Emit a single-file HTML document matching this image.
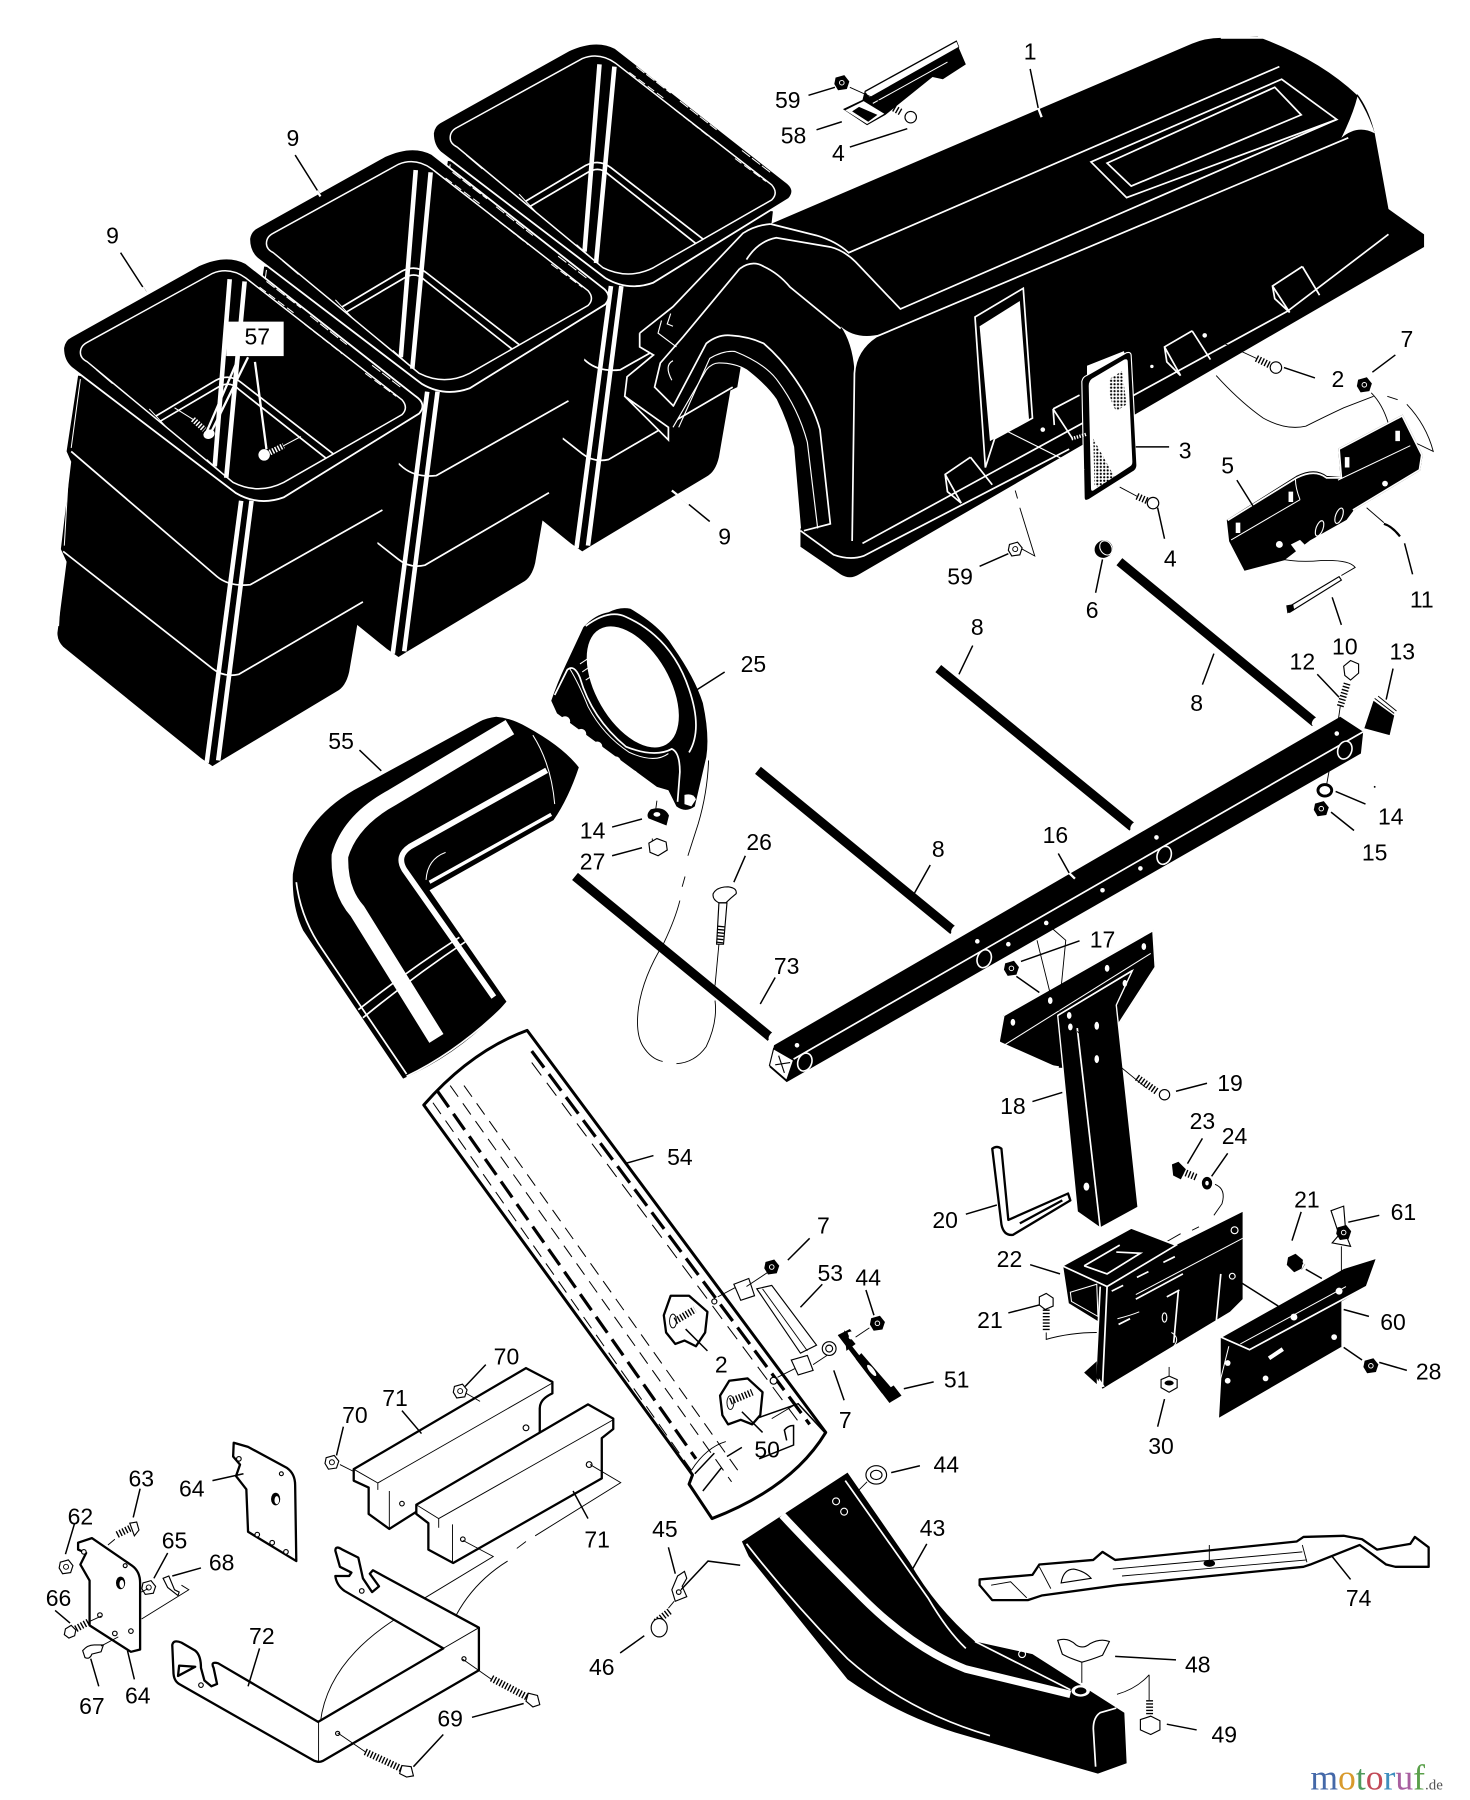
<!DOCTYPE html>
<html><head><meta charset="utf-8"><style>
html,body{margin:0;padding:0;background:#fff}
svg{display:block}
text{font-family:"Liberation Sans",sans-serif;font-size:20px;fill:#000;text-anchor:middle}
.l{stroke:#000;stroke-width:1.3;fill:none}
.t{stroke:#000;stroke-width:.8;fill:none}
.w{stroke:#fff;stroke-width:1.5;fill:none}
.wt{stroke:#fff;stroke-width:.9;fill:none}
.o{stroke:#000;stroke-width:2;fill:#fff;stroke-linejoin:round}
.ot{stroke:#000;stroke-width:1;fill:#fff}
.th{stroke:#000;stroke-width:6;stroke-dasharray:1.2 1.6;fill:none}
.ko{fill:#000;stroke:#000;stroke-width:1}
.wh{fill:#fff}
</style></head><body>
<svg xmlns="http://www.w3.org/2000/svg" width="1470" height="1800" viewBox="0 0 1280 1567" preserveAspectRatio="none">
<rect width="1280" height="1567" fill="#fff"/>
<defs>
<pattern id="d" width="3" height="3" patternUnits="userSpaceOnUse"><circle cx="1.5" cy="1.5" r=".95" fill="#000"/></pattern>
<g id="b">
<path d="M68,327 L58,393 L62,402 L53,478 L58,489 L50,551 Q50,558 55,563 L175,660 L185,667 L193,662 L293,602 Q301,598 304,585 L314,527 L320,524 L333,447 L343,440 L351,371Z" fill="#000"/>
<path class="w" d="M62,393 L189,502 Q200,511 218,509 L333,444"/>
<path class="w" d="M55,480 L185,582 Q195,590 208,587 L316,524"/>
<path class="wt" d="M70,330 L62,390M60,405 L56,475M54,492 L51,545"/>
<path d="M210,436 L180,664" stroke="#fff" stroke-width="4"/>
<path d="M219,436 L190,662" stroke="#fff" stroke-width="4"/>
<path d="M55,303 Q56,296 62,293 L173,231 Q197,220 214,229 L362,345 Q372,352 365,360 L247,433 Q225,441 205,429 L62,320 Q55,314 55,303Z" fill="#000" stroke="#fff" stroke-width="1.6"/>
<path d="M70,307 Q70,301 76,298 L185,238 Q200,232 214,242 L350,348 Q356,355 350,361 L247,420 Q225,431 203,420 L76,315 Q70,312 70,307Z" fill="#000" stroke="#fff" stroke-width="1.3"/>
<path d="M200,243 L187,406" stroke="#fff" stroke-width="4"/>
<path d="M213,245 L197,416" stroke="#fff" stroke-width="4"/>
<path class="w" d="M136,362 L188,331 Q200,325 210,333 L290,395"/>
<path class="w" d="M139,367 L190,337 Q200,331 208,339 L284,399"/>
<path class="wt" d="M130,356 L145,372M84,322 L98,334M180,400 L197,415"/>
<path class="wt" d="M232,245 L262,268M270,275 L302,300M324,318 L350,338" stroke-dasharray="9 2"/>
<path class="wt" d="M226,250 L258,274M265,282 L298,308M318,325 L345,345" stroke-dasharray="7 3"/>
</g>
<g id="nut"><path d="M-5,-4 L2,-6 L6,-1 L4,5 L-3,6 L-6,1Z" fill="#000" stroke="#000"/><circle r="2" fill="none" stroke="#fff" stroke-width=".8"/></g>
<g id="nutw"><path d="M-5,-4 L2,-6 L6,-1 L4,5 L-3,6 L-6,1Z" fill="#fff" stroke="#000"/><circle r="2.2" fill="none" stroke="#000" stroke-width=".8"/></g>
</defs>

<use href="#b" x="322" y="-187"/>
<use href="#b" x="162" y="-95"/>
<use href="#b"/>

<!-- screws 57 -->
<rect x="197" y="280" width="50" height="30" fill="#fff"/>
<path d="M216,311 L183,378M208,311 L179,378M222,315 L232,391" stroke="#fff" stroke-width="2"/>
<ellipse cx="182" cy="378" rx="5" ry="4" fill="#fff" transform="rotate(-20 182 378)"/><path d="M168,365 L178,374" stroke="#fff" stroke-width="5" stroke-dasharray="1.3 1.3"/>
<ellipse cx="230" cy="396" rx="5" ry="5" fill="#fff"/><path d="M235,394 L247,388" stroke="#fff" stroke-width="5" stroke-dasharray="1.3 1.3"/>
<path class="wt" d="M247,388 L262,380M152,355 L168,365"/>

<!-- hood -->
<path fill="#000" d="M671,195 L1038,38 Q1050,33 1063,33 L1095,32 Q1140,45 1182,82 Q1192,95 1197,116 L1209,182 L1240,204 L1240,215 L748,500 Q740,505 732,500 L697,476 L697,460 L691,389 Q685,365 676,348 Q662,330 650,322 Q636,314 624,316 Q616,316 615,322 L586,372 L582,374 L582,383 L544,345 L546,328 L569,309 L557,302 L557,290 L586,267 L647,203 Q658,196 671,195Z"/>
<g class="w">
<path d="M671,195 L711,205 Q728,210 739,220 L1114,58"/>
<path d="M650,226 Q660,210 676,207 L723,215 Q735,218 745,228 L784,269 L1164,104"/>
<path d="M644,234 L595,293 L575,316 L570,337 L586,353"/>
<path d="M644,234 Q655,226 665,232 Q678,238 688,250 L732,286"/>
<path d="M557,290 L586,267 L647,203 Q658,196 671,195"/>
<path d="M557,290 V302 L569,309 L546,328 L544,345 L582,372 V383 L544,345"/>
<path d="M586,354 L615,299 Q625,291 636,292 Q652,293 665,299 Q680,312 691,328 Q708,352 714,374 L723,456 L700,462"/>
<path stroke-width="1" d="M591,372 L618,312 Q630,305 640,306 Q665,316 676,330 Q695,355 703,385 L712,460"/>
<path stroke-width="1" d="M586,372 L615,322 Q620,316 626,316 Q640,316 650,322 Q668,336 676,348 Q686,368 691,389 L697,460"/>
<path stroke-width="1" d="M586,314 Q578,318 585,331M584,273 L581,282 L586,284M576,279 L573,290 L589,302"/>
<path d="M1174,120 L763,293 Q745,305 744,325 L742,471"/>
<path d="M751,473 L1121,271 L1209,204"/>
<path d="M697,462 L726,483 Q740,488 752,484 L931,391"/>
<path d="M950,141 L1116,69 L1164,104 L981,172Z"/>
<path d="M964,142 L1110,76 L1133,100 L985,162Z"/>
<path d="M845,398 L823,413 L825,428 L837,438 M845,398 L864,422 M823,413 L837,438"/>
<path d="M917,356 L940,344 M917,356 L934,382 M917,356 L918,370"/>
<path d="M1038,288 L1014,302 L1016,315 L1028,327 M1038,288 L1054,313 M1014,302 L1028,327"/>
<path d="M1134,232 L1108,249 L1110,260 L1123,272 M1134,232 L1149,257 M1108,249 L1123,272"/>
<path d="M1063,33 L1100,33 Q1150,52 1182,82"/>
</g>
<path d="M732,284 Q745,296 767,291 Q748,300 744,322 Q742,298 732,284Z" fill="#fff"/>
<path d="M1168,120 Q1178,100 1182,84 Q1192,100 1197,116 Q1182,108 1168,120Z" fill="#fff"/>
<path d="M849,276 L891,251 L899,364 L866,382 L858,407Z" fill="#000" stroke="#fff" stroke-width="1.5"/>
<path d="M853,284 L888,262 L896,365 L862,384Z" fill="#fff"/>
<circle cx="1049" cy="292" r="2" fill="#fff"/><circle cx="1003" cy="319" r="1.5" fill="#fff"/><circle cx="908" cy="374" r="2" fill="#fff"/>

<!-- 3 panel -->
<path d="M946,318 L979,305 L983,320L946,336Z" fill="#fff" stroke="#000"/>
<path d="M942,332 Q943,328 946,327 L981,307 Q985,306 985,310 L990,405 Q990,409 986,411 L948,435 Q944,437 944,433Z" fill="#000" stroke="#fff" stroke-width="1"/>
<path d="M948,336 Q948,331 952,329 L979,313 Q982,312 982,315 L986,402 Q986,405 984,406 L952,427 Q950,428 950,425Z" fill="#fff"/>
<path d="M966,330 L977,323 L981,352 L972,358 Q964,345 966,330Z" fill="url(#d)"/>
<path d="M952,382 L972,418 L960,425 L953,423Z" fill="url(#d)"/>
<path d="M868,371 L944,409" stroke="#fff" stroke-width="1"/>
<path d="M933,382 L946,378" stroke="#fff" stroke-width="3" stroke-dasharray="1.2 1.2"/>
<!-- screw 2 right -->
<path class="t" d="M1051,292 L1094,312"/><path class="th" d="M1094,312 L1106,318" stroke-width="5"/>
<circle cx="1111" cy="320" r="5" class="ot"/>
<!-- 4 small screw -->
<path class="t" d="M975,424 L990,432"/><path class="th" d="M990,432 L999,436" stroke-width="5"/>
<circle cx="1004" cy="438" r="5" class="ot"/>
<!-- 58 -->
<path d="M734,95 L751,87 L753,79 L833,35 L835,42 L841,56 L821,69 L812,67 L771,100 L755,109Z" fill="#000"/>
<path d="M753,80 L833,36 L835,41 L757,85Z" fill="#fff" stroke="#000" stroke-width=".6"/>
<path d="M736,96 L752,88 L770,99 L755,108Z" fill="#fff"/>
<path d="M748,93 L764,100 L756,106 L742,97Z" fill="#000"/>
<path d="M820,52 L835,46 L838,55 L822,64Z" fill="#000"/><path class="wt" d="M760,90 L825,54"/>
<use href="#nut" x="733" y="72"/>
<path class="t" d="M740,76 L771,90"/><path class="th" d="M771,90 L785,98" stroke-width="5"/>
<circle cx="793" cy="102" r="5" class="ot"/>
<!-- 59 low -->
<use href="#nutw" x="884" y="478"/>
<path class="t" d="M890,478 L901,484 L888,442M886,434 L884,427"/>
<!-- 6 -->
<ellipse cx="961" cy="478" rx="8" ry="7.5" fill="#000" transform="rotate(-30 961 478)"/><ellipse cx="963" cy="477" rx="5" ry="6.5" fill="none" stroke="#fff" stroke-width=".9" transform="rotate(-30 963 477)"/>
<!-- nut 7 and cable -->
<use href="#nut" x="1188" y="335"/>
<path class="t" d="M1059,327 Q1080,350 1100,364 Q1120,375 1137,371 Q1155,362 1170,355 L1196,345 M1208,345 L1217,348 M1225,352 Q1242,370 1248,393 L1221,380"/>
<path class="t" d="M1194,342 Q1204,352 1209,369"/>
<!-- 5 -->
<path fill="#000" stroke="#000" stroke-width="1.5" d="M1069,453 L1129,415 Q1145,407 1155,415 L1168,416 L1166,391 L1221,362 L1238,396 L1236,409 L1178,444 L1172,452 L1140,470 L1118,487 L1084,496 L1071,471Z"/>
<path class="w" d="M1069,453 L1129,416 Q1145,408 1155,416 L1168,416 L1166,391 L1221,362 L1238,396 L1236,409 L1178,444"/>
<path class="wt" d="M1072,470 L1132,435M1165,418 L1228,388M1132,435 Q1128,425 1128,417"/>
<path class="wh" d="M1076,455 h4 v9 h-4zM1122,428 h4 v9 h-4zM1171,398 h4 v9 h-4zM1215,375 h4 v9 h-4z"/>
<ellipse cx="1114" cy="474" rx="3" ry="3" fill="#fff"/><ellipse cx="1149" cy="460" rx="3" ry="7" fill="none" stroke="#fff" transform="rotate(20 1149 460)"/><ellipse cx="1166" cy="449" rx="3" ry="7" fill="none" stroke="#fff" transform="rotate(20 1166 449)"/><circle cx="1206" cy="421" r="2.5" fill="#fff"/>
<path class="wh" d="M1124,474 l8,-4 l4,4 l-6,8z"/>
<path class="t" d="M1112,486 Q1130,490 1150,488 Q1175,487 1180,494 L1168,501"/>
<path class="ot" d="M1121,529 L1166,502 L1168,505 L1123,533Z"/><path fill="#000" d="M1120,527 L1126,526 L1127,531 L1121,534Z"/>
<path class="t" d="M1190,442 L1205,455"/>
<path d="M1205,456 Q1212,458 1219,467" stroke="#000" stroke-width="2" fill="none"/>

<!-- rods -->
<g stroke="#000" stroke-width="8" stroke-linecap="butt">
<path d="M974.7,489 L1145,629"/><path d="M817,582 L986,720"/><path d="M660,670.6 L830,810"/><path d="M500.7,763 L671,903"/>
</g>
<g fill="#fff"><ellipse cx="1145" cy="628" rx="2" ry="4" transform="rotate(35 1145 628)"/><ellipse cx="987" cy="719" rx="2" ry="4" transform="rotate(35 987 719)"/><ellipse cx="831" cy="809" rx="2" ry="4" transform="rotate(35 831 809)"/><ellipse cx="672" cy="902" rx="2" ry="4" transform="rotate(35 672 902)"/></g>

<!-- frame -->
<path fill="#000" d="M1167,624 L1187,637 L1185,656 L685,942 L670,929 L674,910Z"/>
<path d="M691,922 L1187,637" class="w"/>
<path d="M673.6,913 L691,923 L685,940.5 L670,927.5Z M678,919 L683,934 M675,927 L688,925" fill="#fff" stroke="#000" stroke-width="1"/>
<g fill="#000" stroke="#fff" stroke-width="1.4"><ellipse cx="1171" cy="653" rx="6" ry="8" transform="rotate(20 1171 653)"/><ellipse cx="1013.7" cy="744.6" rx="6" ry="8" transform="rotate(20 1013.7 744.6)"/><ellipse cx="857" cy="834.6" rx="6" ry="8" transform="rotate(20 857 834.6)"/><ellipse cx="700.8" cy="924.6" rx="6" ry="8" transform="rotate(20 700.8 924.6)"/></g>
<g fill="#fff"><circle cx="1164" cy="638.6" r="2"/><circle cx="1007" cy="729" r="2"/><circle cx="993" cy="756" r="2"/><circle cx="960" cy="775" r="2"/><circle cx="911" cy="803.5" r="2"/><circle cx="878" cy="822" r="2"/><circle cx="851" cy="819.5" r="2"/><circle cx="694" cy="910" r="2"/></g>
<path d="M921.5,743 L931,760" class="l"/><path d="M931,760 L936,765" stroke="#fff" stroke-width="2"/>

<!-- bolt 12 -->
<path class="t" d="M1164,636 L1167,615"/><path class="th" d="M1173,595 L1167,615"/>
<path d="M1171,588 L1170,580 L1176,575 L1183,578 L1183,586 L1176,592Z" class="ot"/>
<!-- 13 -->
<path d="M1196,610 L1214,623 L1210,640 L1188,634Z" fill="#000"/>
<path class="wt" d="M1200,609 L1217,622 L1213,641M1203,606 L1219,620 L1216,640"/>
<path class="t" d="M1197,608 L1214,621M1200,606 L1216,619"/>
<path class="t" d="M1157.5,670 L1155,684"/>
<ellipse cx="1153.6" cy="688" rx="6" ry="5" fill="#fff" stroke="#000" stroke-width="2.5"/>
<use href="#nut" x="1150.5" y="704"/>
<circle cx="1197" cy="685" r=".8"/>

<!-- bracket 18 -->
<path fill="#000" stroke="#000" d="M874,884 L1004,810 L1006,842 L973,893 L975,930 L922,929 L870,906Z"/>
<path class="w" d="M874,884 L1004,810 L1006,842 L973,893M874,884 L870,906 L872,921 L922,929"/>
<path class="wt" d="M871,912 L1002,830"/>
<path fill="#000" stroke="#fff" stroke-width="1.2" d="M921,884 L986,845 L972,875 L991,1051 L958,1069 L938,1055Z"/>
<path class="w" d="M938,895 L958,1069"/>
<path class="w" d="M921,884 L986,845"/>
<g fill="#fff"><ellipse cx="882" cy="890" rx="2" ry="3"/><ellipse cx="996" cy="824" rx="2" ry="3"/><ellipse cx="964" cy="843" rx="2" ry="3"/><ellipse cx="914.5" cy="871" rx="2" ry="3"/><ellipse cx="931" cy="884" rx="2" ry="3"/><ellipse cx="932" cy="894" rx="2" ry="3"/><ellipse cx="955" cy="893" rx="2" ry="3.5"/><ellipse cx="955" cy="922" rx="2" ry="3.5"/><ellipse cx="946" cy="1033" rx="2.5" ry="3.5"/><ellipse cx="979.5" cy="856" rx="2" ry="3"/></g>
<path class="t" d="M916.5,808.5 L928,818.6 L922,880M903,818.6 L914.5,865"/>
<use href="#nut" x="880.7" y="843"/><path class="l" d="M885,850 L905,864"/>
<path class="t" d="M938,898 L998,947"/><path class="th" d="M990,938 L1007,950"/>
<circle cx="1014" cy="953" r="4.5" class="ot"/>

<!-- 20 pin -->
<path class="o" stroke-width="1.2" d="M864,1000 Q868,997 872,1000 L878,1062 L930,1039 L932,1045 L882,1075 Q874,1076 872,1066Z"/>
<path d="M888,1065 L925,1045" stroke="#000" stroke-width="2"/>

<!-- 23 24 -->
<path d="M1021,1014 L1026,1012 L1032,1018 L1028,1026 L1022,1023Z" class="ko"/><path class="th" d="M1030,1020 L1042,1025"/>
<ellipse cx="1051" cy="1030" rx="4" ry="5" fill="#000" stroke="#000"/><ellipse cx="1051" cy="1030" rx="1.5" ry="2" fill="#fff"/>
<path class="t" d="M1058,1031 Q1068,1035 1064,1048 L1057,1058M1044,1068 L1038,1071M1028,1074 L1014,1082"/>

<!-- 22 -->
<path fill="#000" d="M925,1102 L985,1069 L1024,1084 L1082,1055 L1082,1131 L1071,1142 L968,1204 L960,1209 L954,1198 L956,1151 L930,1135Z"/>
<path class="w" d="M925,1102 L985,1069 L1024,1084 L964,1120 Z"/>
<path class="w" d="M944,1102 L975,1084 M972,1090 L993,1091 L964,1109 L944,1102"/>
<path class="w" d="M925,1102 L930,1135 L956,1151M958,1120 L954,1198 M964,1120 L960,1206"/>
<path class="wt" d="M932,1125 L955,1118 L956,1146 L933,1133Z"/>
<path class="wt" d="M989,1127 L1082,1078"/>
<path class="w" stroke-width="2" d="M989,1131 L1030,1109"/>
<path class="w" stroke-width="2" d="M1026,1124 L1022,1169M1063,1109 L1059,1151"/>
<path class="w" d="M968,1124 l10,-5 M990,1112 l10,-5 M1013,1099 l10,-5 M974,1153 l10,-5 M1016,1129 l11,-6"/>
<path class="wt" d="M973,1148 Q985,1145 992,1142 M1020,1160 Q1028,1165 1022,1172"/>
<ellipse cx="1014" cy="1147" rx="2" ry="4" fill="none" stroke="#fff"/><circle cx="1073" cy="1111" r="2.5" fill="none" stroke="#fff"/><circle cx="1075" cy="1071" r="3" fill="none" stroke="#fff"/>
<path fill="#000" d="M944,1195 L955,1185 L955,1205Z"/>
<path d="M957,1200 L955,1209 L962,1207" fill="#fff"/>
<path d="M905,1129 L911,1126 L917,1130 L917,1137 L910,1140 L905,1136Z" class="ot"/>
<path class="th" d="M911,1140 L911,1158"/><path class="t" d="M911,1160 L911,1166 Q932,1160 955,1160"/>
<path class="t" d="M1018,1190 L1018,1198"/>
<path d="M1011,1201 L1018,1198 L1025,1201 L1025,1208 L1018,1212 L1011,1208Z" class="ot"/><ellipse cx="1018" cy="1204" rx="4" ry="2.2" fill="#000"/>

<!-- 60 -->
<path fill="#000" d="M1063,1164 L1170,1104 L1199,1095 L1190,1120 L1168,1133 V1173 L1061,1235 L1063,1200Z"/>
<path d="M1063,1164 L1170,1104 L1199,1095 L1190,1120 L1088,1175 Z" fill="#000" stroke="#fff" stroke-width="1.5"/>
<path class="wt" d="M1080,1170 L1172,1120 M1070,1172 L1063,1200 L1061,1235 L1168,1173"/>
<path fill="#fff" d="M1104,1181 L1116,1173 L1118,1176 L1106,1184Z"/>
<g fill="#fff"><circle cx="1126.7" cy="1146.6" r="3"/><circle cx="1166" cy="1124" r="3"/><circle cx="1161.7" cy="1164" r="2.5"/><circle cx="1102" cy="1200" r="2.5"/><circle cx="1069" cy="1186.6" r="2.5"/><circle cx="1069" cy="1202" r="2.5"/></g>
<path class="l" d="M1075,1113 L1113,1137"/>
<path d="M1122,1095 L1128,1092 L1134,1097 L1133,1104 L1127,1107 L1121,1101Z" class="ko"/><path class="th" d="M1130,1100 L1135,1103"/>
<path class="l" d="M1137,1105 L1151,1113"/>
<!-- 61 -->
<path class="ot" d="M1159,1054 L1170,1050 L1172,1075 L1176,1085 L1160,1082 L1166,1075Z" stroke-width="1.5"/>
<use href="#nut" x="1170" y="1073"/>
<path class="t" d="M1168,1085 L1168,1108"/>
<use href="#nut" x="1193.7" y="1189"/>
<path class="l" d="M1170,1173 L1186,1184"/>

<!-- blade 74 -->
<path class="o" stroke-width="1.6" d="M853,1375 L899,1371 L905,1362 L952,1358 L960,1351 L971,1358 L1129,1342 L1135,1338 L1170,1337 L1186,1340 L1199,1349 L1228,1344 L1232,1338 L1244,1347 L1244,1364 L1215,1364 L1207,1362 L1184,1345 L1141,1362 L1135,1364 L973,1380 L907,1389 L895,1393 L864,1393 L853,1380Z"/>
<path class="t" d="M969,1366 L1134,1351 M977,1372 L1138,1358 M1134,1345 L1138,1360M863,1380 L880,1377 L894,1391M905,1364 L915,1383"/>
<path class="ot" d="M924,1378 Q926,1366 935,1366 Q945,1368 950,1374 Z"/>
<ellipse cx="1053" cy="1361" rx="5" ry="3" fill="#000"/><path class="t" d="M1053,1345 V1361"/>

<!-- chute 43 -->
<path fill="#000" d="M738,1282 L646,1342 L652,1355 L738,1462 Q785,1495 841,1511 L956,1544 L981,1535 L979,1491 L899,1440 L849,1429 Q815,1400 792,1360Z"/>
<path d="M681,1319 Q710,1350 751,1391 Q795,1435 841,1453 L932,1475" stroke="#fff" stroke-width="6.5" fill="none"/>
<path class="w" d="M650,1344 Q690,1395 738,1444 Q790,1490 862,1511"/>
<path class="w" d="M736,1289 L808,1391 Q825,1420 841,1435"/>
<path class="w" stroke-width="1" d="M849,1429 L932,1471"/>
<path class="w" d="M972,1487 L958,1491 Q952,1495 952,1505 L954,1538"/>
<circle cx="728" cy="1307" r="3" fill="none" stroke="#fff"/><circle cx="735" cy="1316" r="3" fill="none" stroke="#fff"/><circle cx="890" cy="1440" r="3" fill="none" stroke="#fff"/>
<ellipse cx="941" cy="1472" rx="8" ry="5" fill="#fff"/><ellipse cx="941" cy="1472" rx="5" ry="3" fill="#000"/>
<path class="ot" d="M921,1428 Q930,1425 937,1432 Q943,1436 949,1431 Q958,1426 966,1429 L960,1441 Q950,1445 942,1447 Q930,1443 925,1440Z" stroke-width="1.5"/>
<path class="t" d="M942,1447 V1465"/>
<path class="t" d="M972.6,1475 Q990,1470 1000.6,1458 M1000.6,1458 V1480"/>
<path class="th" d="M1001,1480 L1001,1494"/>
<path d="M993,1497 L1002,1494 L1010,1498 L1010,1506 L1002,1510 L993,1506Z" class="ot"/>
<ellipse cx="763" cy="1284" rx="9" ry="8" class="ot"/><ellipse cx="763" cy="1284" rx="5" ry="4" fill="none" stroke="#000"/><path class="t" d="M745,1300 L755,1290"/>

<!-- ring 25 -->
<path fill="#000" d="M530,533 Q540,528 549,530 Q575,545 586,563 Q605,590 612,612 Q618,640 615,659 L605,702 Q597,708 589,702 L582,688 L572,685 L485,621 L480,610 Q485,595 493,578 L508,546 Q518,535 530,533Z"/>
<ellipse cx="551" cy="598" rx="58" ry="32" transform="rotate(60 551 598)" fill="#fff"/>
<path class="w" d="M510,545 Q530,530 545,537 Q585,555 600,600 Q612,635 600,655M483,605 L494,583 Q500,578 505,590 Q515,625 545,650 Q570,660 585,652 Q592,655 592,672 L590,698"/>
<path class="wt" d="M505,578 L520,568M507,585 L520,576M510,592 L522,584M496,582 Q504,595 512,615 Q525,640 548,655 Q570,665 582,656"/>
<g fill="#fff"><circle cx="492" cy="628" r="4.5"/><circle cx="506" cy="639" r="4.5"/><circle cx="520" cy="650" r="4.5"/><circle cx="536" cy="663" r="4.5"/><circle cx="551" cy="675" r="4.5"/><circle cx="566" cy="687" r="4.5"/></g>
<path fill="#fff" d="M596,692 Q604,690 606,696 L602,702 L596,700Z"/>
<path class="t" d="M617,662 Q616,690 608,717 L599,745M596.5,763 L594,772M592,784 Q588,800 578,821 Q560,850 556,877 Q553,900 560,911 Q567,922 577,924M589,926 Q605,925 615,911 Q625,890 622.6,871"/>
<path class="t" d="M572,697 L570,712M568,730 V735"/>
<path d="M567,705 Q578,702 582,710 L580,718 L565,712 Q563,709 567,705Z" fill="#000" stroke="#000"/><ellipse cx="572" cy="709" rx="3" ry="2" fill="#fff"/>
<path class="ot" d="M565,734 L572,730 L580,733 L581,740 L573,745 L566,742Z"/>
<!-- 26 bolt -->
<path class="ot" d="M621,778 Q624,772 634,772 Q642,773 641,778 Q636,782 632,786 L626,786 Q620,783 621,778Z" stroke-width="1.3"/>
<path class="ot" d="M626,786 L633,786 L630,822 L624,822Z" stroke-width="1"/>
<path class="th" d="M628,806 L626.5,821" stroke-width="7"/><path class="t" d="M626,822 L622.6,858"/>

<!-- elbow 55 -->
<path fill="#000" d="M432,624 Q424,625 418,628 L308,688 Q262,715 255,761 Q254,790 264,810 L351,939 Q405,915 441,872 L374,775 L482,714 Q495,695 504,668 Q490,650 459,633 Q445,625 432,624Z"/>
<path d="M444,633 L342,694 Q305,714 296,745 Q295,775 311,793 L380,904" stroke="#fff" stroke-width="14.5" fill="none"/>
<path d="M476,670.6 L357,737 Q345,745 352,757 L430,868" stroke="#fff" stroke-width="5" fill="none"/>
<path d="M480,709 L374,768" stroke="#fff" stroke-width="3" fill="none"/>
<path class="wt" d="M388,742 Q372,748 371,766M464,640 Q480,665 483,700"/>
<path class="w" d="M258,768 Q262,800 281,827 L354,935"/>
<path class="w" d="M312,879 Q355,845 400,816M316,886 Q360,850 405,820"/>
<path class="w" stroke-width="1.2" d="M354,937 Q400,915 443,872"/>

<!-- tube 54 -->
<path d="M369,962 Q410,915 459,897 L719,1247 Q690,1295 620,1322 L600,1292 L603,1284Z" fill="#fff" stroke="#000" stroke-width="2.6" stroke-linejoin="round"/>
<g fill="none" stroke="#000">
<path stroke-width=".9" stroke-dasharray="12 7" d="M377,960 L602,1280"/>
<path stroke-width="2.8" stroke-dasharray="17 7" d="M381,950 L606,1270"/>
<path stroke-width=".9" stroke-dasharray="12 7" d="M392,945 L637,1290"/>
<path stroke-width=".9" stroke-dasharray="12 7" d="M404,945 L646,1285"/>
<path stroke-width="2.8" stroke-dasharray="18 7" d="M463,915 L705,1240"/>
<path stroke-width=".9" stroke-dasharray="14 8" d="M463,925 L697,1240"/>
</g>
<path class="t" d="M602,1280 Q615,1260 632,1255"/>
<path class="l" d="M661,1234 L695,1222 L719,1248"/>
<path class="l" d="M661,1270 L691,1258 V1241 Q686,1241 683,1245 L685,1254"/>
<path class="t" d="M672,1235 L692,1223"/>
<path class="l" d="M633,1268 L646,1260 M605,1283 L622,1265 M612,1298 L628,1278"/>
<!-- knobs -->
<path class="o" d="M578,1145 L584,1128 L600,1128 L616,1142 L614,1160 L606,1172 L596,1167 L588,1170 L580,1160Z"/>
<path class="th" d="M588,1150 L605,1140"/>
<ellipse cx="586" cy="1150" rx="3" ry="6" fill="none" stroke="#000" stroke-width=".8"/>
<path class="o" d="M627,1215 L635,1202 L651,1200 L664,1212 L662,1232 L655,1240 L645,1236 L634,1240 L629,1232Z"/>
<path class="th" d="M636,1220 L655,1212"/>
<ellipse cx="636" cy="1221" rx="3" ry="6" fill="none" stroke="#000" stroke-width=".8"/>
<!-- 53 -->
<circle cx="622" cy="1133" r="2.2" class="ot"/><circle cx="673.6" cy="1202" r="3" class="ot"/>
<path class="t" d="M625,1129 L640,1121M677,1199 L695,1190M708,1188 L720,1180"/>
<path class="ot" d="M639,1118 L652,1113 L657,1128 L645,1132Z" stroke-width="1.3"/>
<path class="ot" d="M659,1122 L672,1119 L711,1171 L697,1178Z" stroke-width="1.3"/><path class="t" d="M664,1122 L703,1176"/>
<path class="ot" d="M689,1184 L703,1180 L708,1193 L695,1197Z" stroke-width="1.3"/>
<use href="#nut" x="672" y="1103"/><path class="t" d="M650,1120 L668,1108"/>
<circle cx="722" cy="1174" r="6" class="ot"/><circle cx="722" cy="1174" r="3" fill="none" stroke="#000"/>
<!-- 51 -->
<path fill="#000" d="M730,1162 L740,1157 L785,1215 L775,1221Z"/>
<path fill="#fff" d="M738,1160 L745,1158 L780,1205 L772,1210 L768,1205 L742,1172Z"/>
<path class="l" fill="none" d="M730,1162 L775,1221"/>
<path d="M735,1158 L745,1170 L737,1176Z" fill="#000"/>
<path d="M750,1178 L776,1208 L768,1213 L745,1183Z" fill="#000"/><ellipse cx="759" cy="1193" rx="2" ry="6" fill="#fff" transform="rotate(-38 759 1193)"/><circle cx="741" cy="1164" r="2" fill="#fff"/>
<use href="#nut" x="764" y="1152"/><path class="t" d="M745,1164 L757,1156"/>

<!-- bottom left parts: blocks -->
<path class="o" d="M308,1279 L458,1191 L481,1203 V1213 Q470,1218 470,1226 V1248 L339,1331 L321,1318 V1295 L308,1289Z"/>
<path class="t" d="M308,1279 L329,1291 V1297 M329,1291 L481,1204 M339,1331 V1298"/>
<circle cx="350" cy="1309" r="2" class="ot"/><circle cx="458" cy="1243" r="2.5" class="ot"/>
<path class="o" d="M362.5,1310 L512,1222.6 L534,1235 V1244 L524,1252 V1287 L394.6,1360.7 L373,1349 V1326 L362.5,1318Z"/>
<path class="t" d="M362.5,1310 L382,1322 V1330 M382,1322 L534,1236 M394,1360 V1327"/>
<circle cx="403" cy="1340" r="2" class="ot"/><circle cx="513" cy="1275" r="2.5" class="ot"/>
<use href="#nutw" x="400.7" y="1211"/><path class="t" d="M406,1213 L418,1220"/>
<use href="#nutw" x="289" y="1273"/><path class="t" d="M296,1275 L308,1281"/>
<path class="t" d="M513.8,1275 L540.5,1290.7 L466,1337M458,1342 L450,1348M403,1341 L429.5,1355 L353.5,1401M345,1409 L339,1413 Q285,1450 279,1499M442,1359 Q400,1385 386,1434"/>
<!-- 64 plates -->
<path class="o" d="M203.5,1256 L216,1259.6 L250,1278 Q257,1283 257,1293 L258,1359 L216,1333.5 L214.5,1296.5 L205.5,1285 L209,1275 L203,1268Z"/>
<ellipse cx="240" cy="1305" rx="4" ry="5.5" fill="#000"/><ellipse cx="241" cy="1306" rx="2" ry="3.5" fill="#fff"/>
<g class="ot"><circle cx="208" cy="1270" r="2"/><circle cx="245" cy="1283" r="1.7"/><circle cx="224" cy="1336" r="2"/><circle cx="237" cy="1343" r="2"/><circle cx="249" cy="1351" r="2"/></g>
<path class="o" d="M68,1343 L80,1339 L115,1363 Q122,1368 122,1378 L122,1436 L114,1438 L78,1415 L78,1376 L70,1362 L75,1352 L68,1349Z"/>
<ellipse cx="105" cy="1378" rx="4" ry="5.5" fill="#000"/><ellipse cx="106" cy="1379" rx="2" ry="3.5" fill="#fff"/>
<g class="ot"><circle cx="73" cy="1351" r="2"/><circle cx="109" cy="1363" r="1.7"/><circle cx="87" cy="1406" r="2"/><circle cx="100" cy="1422" r="2"/><circle cx="114" cy="1420" r="2"/></g>
<use href="#nutw" x="57.5" y="1364"/>
<path class="t" d="M94,1345 L100,1340"/><path class="th" d="M102,1336 L114,1330"/><path class="ot" d="M113,1326 L119,1325 L121,1332 L117,1337Z"/>
<use href="#nutw" x="129.5" y="1382"/><path class="t" d="M123,1386 L129,1383"/>
<path class="ot" d="M142,1374 L147,1372 L152,1384 L156,1386 L155,1389 L146,1382Z"/>
<path class="t" d="M123.3,1409.4 L164.4,1384 L158,1380"/>
<path class="th" d="M66,1418 L77,1412"/><path class="t" d="M77,1412 L88,1407"/>
<path class="ot" d="M57,1418 L62,1415 L66,1419 L65,1424 L60,1426 L56,1423Z"/>
<path class="ot" d="M72,1437 Q76,1432 82,1432 L90,1432 L88,1438 L80,1440 Q78,1445 74,1443Z"/><path class="t" d="M88,1433 L103,1425"/>
<!-- 72 -->
<path class="o" d="M324.7,1367 L417,1417 V1454 L281,1533 Q277,1535 272,1532 L156,1466 Q151,1463 151,1455 L150,1432 Q151,1427 158,1430 L170,1437 Q175,1441 175,1452 L178,1463 L184,1468 L189,1466 L186,1452 Q183,1446 190,1448 L277,1499 L386,1435 L300,1385 Q293,1380 292,1372 L304,1372 L306,1369 L296,1364 L292,1350 Q292,1345 298,1349 L312,1356 L316,1374 L324,1386 L330,1381 L322,1370Z"/>
<path class="o" stroke="none" d="M156,1450 L170,1451 L155,1459Z"/>
<path class="t" d="M277.4,1499 V1534M386,1435 L417,1417"/>
<circle cx="175" cy="1467" r="2" class="ot"/><circle cx="315" cy="1385" r="2" class="ot"/><circle cx="404" cy="1444" r="1.8" class="ot"/><circle cx="294" cy="1509" r="1.8" class="ot"/>
<path class="t" d="M402.8,1444.4 L428,1462M294,1508.6 L318,1525"/>
<path class="th" d="M428,1461 L460,1478" stroke-width="5"/><path class="th" d="M318,1525 L350,1540" stroke-width="5"/>
<path class="ot" d="M460,1474 L468,1476 L470,1484 L464,1486 L458,1481Z"/><path class="ot" d="M350,1537 L358,1538 L360,1546 L354,1547 L348,1544Z"/>
<!-- 45 46 -->
<path class="ot" d="M590,1372 L596,1368 L598,1374 L594,1381 L598,1390 L588,1394 L585,1384Z" stroke-width="1.4"/>
<circle cx="591" cy="1386" r="2" class="ot"/>
<path class="l" d="M593,1384 L616.5,1359 L644.5,1362.6"/><path class="t" d="M587,1394 L582,1400"/>
<path class="th" d="M571,1412 L584,1402" stroke-width="5"/>
<ellipse cx="574" cy="1417" rx="7" ry="8" class="ot"/>

<!-- leaders -->
<g class="l">
<path d="M897,60 L904,94M704,83 L727,76M711,113 L733,106M740,128 L790,112M257,135 L279,170M105,220 L127,254"/>
<path d="M1118,320 L1145,329M1195,324 L1215,309M989,389 L1018,389M1077,418 L1092,442M1008,442 L1014,469M853,493 L878,482M960,487 L954,516M1223,473 L1230,500M1160,520 L1168,544"/>
<path d="M847,562 L835,587M1057,569 L1047,596M1147,587 L1166,607M1213,582 L1207,609M631,585 L606,601M313,653 L332,671M533,720 L559,713M533,745 L559,738M649,745 L639,768M675,851 L662,874M810,753 L796,778"/>
<path d="M940,819 L889,837M1163,689 L1189,700M1159,707 L1179,723M1024,950 L1051,943M899,959 L925,951M1047,991 L1034,1013M1069,1004 L1055,1024M841,1057 L868,1049M897,1101 L923,1109M878,1143 L905,1136M1133,1055 L1125,1080M1201,1058 L1174,1064M1192,1146 L1170,1140M1225,1193 L1201,1186M1008,1242 L1014,1218"/>
<path d="M813,1203 L787,1209M716,1118 L697,1138M754,1123 L761,1145M705,1078 L686,1097M726,1193 L735,1219M616,1176 L597,1157M664,1247 L646,1229M569,1006 L544,1013M801,1276 L776,1282M807,1344 L794,1367M1160,1355 L1176,1375M971,1442 L1024,1445M1016,1501 L1042,1506"/>
<path d="M582,1347 L588,1370M540,1439 L561,1424M423,1188 L405,1207M299,1242 L293,1267M350,1228 L367,1248M512,1322 L499,1298M122,1296 L116,1321M65,1326 L57,1353M146,1352 L134,1374M175,1365 L150,1372M48,1402 L61,1413M79,1444 L86,1468M111,1437 L117,1462M185,1289 L212,1283M226,1435 L216,1468M411,1495 L456,1483M386,1510 L360,1538M585,427 L618,454"/>
</g>
<path d="M585,427 L600,439" stroke="#fff" stroke-width="2"/>
<path d="M904,94 L907,102M124,250 L127,255M276,166 L279,171" stroke="#fff" stroke-width="2"/>

<!-- labels -->
<g>
<text x="897" y="52">1</text><text x="686" y="94">59</text><text x="691" y="125">58</text><text x="730" y="140">4</text>
<text x="255" y="127">9</text><text x="98" y="212">9</text><text x="224" y="300">57</text><text x="631" y="474">9</text>
<text x="1165" y="337">2</text><text x="1225" y="302">7</text><text x="1032" y="399">3</text><text x="1069" y="412">5</text>
<text x="1019" y="493">4</text><text x="836" y="509">59</text><text x="951" y="538">6</text><text x="1238" y="529">11</text>
<text x="1171" y="570">10</text><text x="851" y="553">8</text><text x="1042" y="619">8</text><text x="1134" y="583">12</text>
<text x="1221" y="574">13</text><text x="656" y="585">25</text><text x="297" y="652">55</text><text x="516" y="730">14</text>
<text x="516" y="757">27</text><text x="661" y="740">26</text><text x="1211" y="718">14</text><text x="1197" y="749">15</text>
<text x="919" y="734">16</text><text x="817" y="746">8</text><text x="685" y="848">73</text><text x="960" y="825">17</text>
<text x="1071" y="950">19</text><text x="882" y="970">18</text><text x="1047" y="983">23</text><text x="1075" y="996">24</text>
<text x="823" y="1069">20</text><text x="592" y="1014">54</text><text x="717" y="1074">7</text><text x="723" y="1115">53</text>
<text x="756" y="1119">44</text><text x="879" y="1103">22</text><text x="1138" y="1051">21</text><text x="1222" y="1062">61</text>
<text x="862" y="1156">21</text><text x="1213" y="1158">60</text><text x="628" y="1195">2</text><text x="833" y="1208">51</text>
<text x="1244" y="1201">28</text><text x="736" y="1243">7</text><text x="668" y="1269">50</text><text x="1011" y="1266">30</text>
<text x="824" y="1282">44</text><text x="441" y="1188">70</text><text x="309" y="1239">70</text><text x="344" y="1224">71</text>
<text x="167" y="1303">64</text><text x="123" y="1294">63</text><text x="70" y="1327">62</text><text x="152" y="1348">65</text>
<text x="193" y="1367">68</text><text x="51" y="1398">66</text><text x="80" y="1492">67</text><text x="120" y="1483">64</text>
<text x="228" y="1431">72</text><text x="520" y="1347">71</text><text x="392" y="1503">69</text><text x="812" y="1337">43</text>
<text x="579" y="1338">45</text><text x="524" y="1458">46</text><text x="1183" y="1398">74</text><text x="1043" y="1456">48</text>
<text x="1066" y="1517">49</text>
</g>
<text x="1141" y="1558" style="font-family:'Liberation Serif',serif;font-size:31px;text-anchor:start;font-weight:normal"><tspan fill="#4468a8">m</tspan><tspan fill="#d89a2c">o</tspan><tspan fill="#4f9a5c">t</tspan><tspan fill="#c24a58">o</tspan><tspan fill="#3f8fbf">r</tspan><tspan fill="#a85fa0">u</tspan><tspan fill="#5aa04a">f</tspan><tspan fill="#555" style="font-size:13px">.de</tspan></text>
</svg>
</body></html>
